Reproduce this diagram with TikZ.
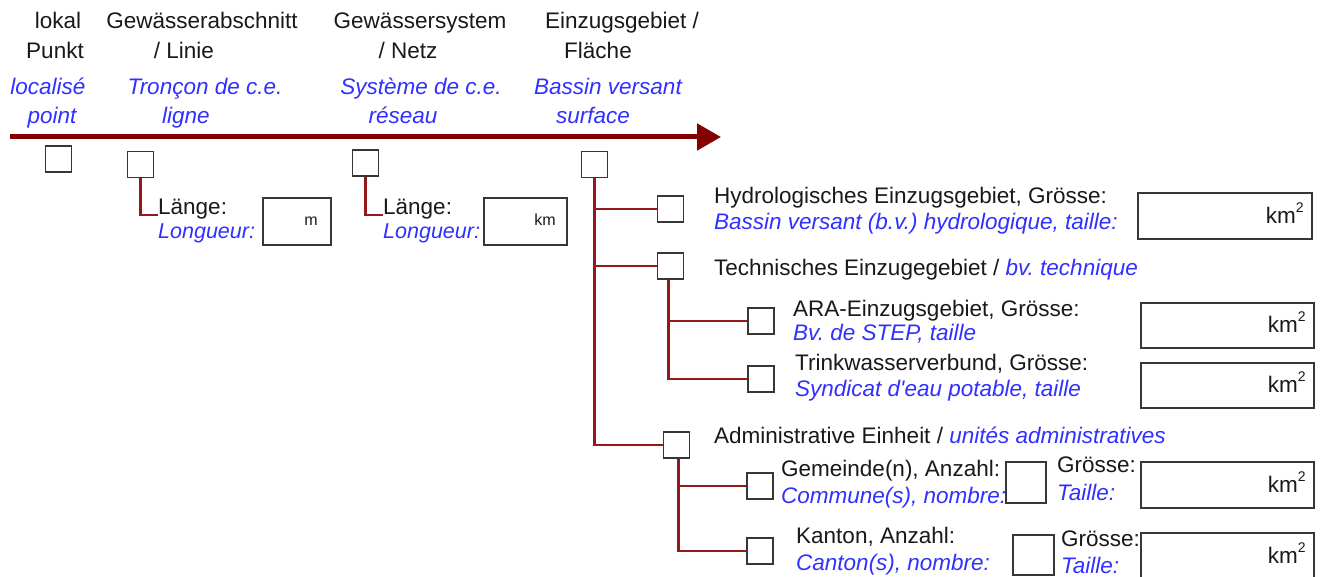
\documentclass[tikz,border=0pt]{standalone}
\usepackage{fontspec}
\setmainfont{Liberation Sans}
\usetikzlibrary{arrows.meta}

\definecolor{ink}{RGB}{25,25,25}
\definecolor{frblue}{RGB}{48,48,255}
\definecolor{axisred}{RGB}{130,0,0}
\definecolor{linkred}{RGB}{150,25,25}
\definecolor{boxgray}{RGB}{55,55,55}

\frenchspacing
\newcommand\lblfont{\fontsize{22.5}{27}\selectfont}
\newcommand\lenfont{\fontsize{21.5}{25}\selectfont}
\newcommand\unitfont{\fontsize{16}{19}\selectfont}
\newcommand\kmsq{km\raisebox{0.5em}{\fontsize{14}{14}\selectfont 2}}
\newcommand\fr[1]{{\color{frblue}\itshape #1}}

\tikzset{
  de/.style={font=\lblfont, text=ink, inner sep=0pt, yshift=-4pt},
  fra/.style={font=\lblfont\itshape, text=frblue, inner sep=0pt, yshift=-4pt},
  chk/.style={draw=boxgray, line width=1.9pt, minimum width=26pt, minimum height=26pt, inner sep=0pt},
  field/.style={draw=boxgray, line width=1.9pt, inner sep=0pt, anchor=north west},
  unit/.style={font=\unitfont, text=ink, inner sep=0pt, anchor=mid east, yshift=-3pt},
  unitsq/.style={font=\lblfont, text=ink, inner sep=0pt, anchor=east},
  link/.style={draw=linkred, line width=2.2pt},
  scale axis/.style={draw=axisred, line width=5pt, -{Triangle[length=24pt,width=26pt]}},
}

\begin{document}
\begin{tikzpicture}[x=1pt,y=-1pt]
  \useasboundingbox[fill=white] (0,0) rectangle (1325,577);

  % scale axis
  \coordinate (axisL) at (10,137);
  \coordinate (axisR) at (721,137);
  \draw[scale axis] (axisL) -- (axisR);

  % spatial levels (German above, French below)
  \node[de, anchor=mid] (t1a) at (58,22) {lokal};
  \node[de, anchor=mid] (t1b) at (55,52) {Punkt};
  \node[de, anchor=mid] (t2a) at (202,22) {Gewässerabschnitt};
  \node[de, anchor=mid] (t2b) at (184,52) {/ Linie};
  \node[de, anchor=mid] (t3a) at (420,22) {Gewässersystem};
  \node[de, anchor=mid] (t3b) at (408,52) {/ Netz};
  \node[de, anchor=mid] (t4a) at (622,22) {Einzugsgebiet /};
  \node[de, anchor=mid] (t4b) at (598,52) {Fläche};

  \node[fra, anchor=mid] (f1a) at (48,88) {localisé};
  \node[fra, anchor=mid] (f1b) at (52,117) {point};
  \node[fra, anchor=mid] (f2a) at (205,88) {Tronçon de c.e.};
  \node[fra, anchor=mid] (f2b) at (186,117) {ligne};
  \node[fra, anchor=mid] (f3a) at (421,88) {Système de c.e.};
  \node[fra, anchor=mid] (f3b) at (403,117) {réseau};
  \node[fra, anchor=mid] (f4a) at (608,88) {Bassin versant};
  \node[fra, anchor=mid] (f4b) at (593,117) {surface};

  % level check boxes
  \node[chk] (s1) at (58.5,159) {};
  \node[chk] (s2) at (140.5,164.5) {};
  \node[chk] (s3) at (365.5,163) {};
  \node[chk] (s4) at (594.5,164.5) {};

  % length of river section
  \node[de, anchor=mid west] (len1) at (158,208) {Länge:};
  \node[fra, font=\lenfont\itshape, anchor=mid west] (lon1) at (158,232) {Longueur:};
  \node[field, minimum width=68pt, minimum height=47pt] (fm) at (262,197) {};
  \node[unit] (um) at (318,220) {m};
  \draw[link] (s2.south) |- (len1.base west);

  % length of river network
  \node[de, anchor=mid west] (len2) at (383,208) {Länge:};
  \node[fra, font=\lenfont\itshape, anchor=mid west] (lon2) at (383,232) {Longueur:};
  \node[field, minimum width=83pt, minimum height=47pt] (fkm) at (483,197) {};
  \node[unit] (ukm) at (556,220) {km};
  \draw[link] (s3.south) |- (len2.base west);

  % catchment types
  \node[chk] (sHyd) at (670.5,209) {};
  \node[chk] (sTech) at (670.5,266) {};
  \node[chk] (sAra) at (761,321) {};
  \node[chk] (sTrink) at (761,379) {};
  \node[chk] (sAdm) at (676.5,445) {};
  \node[chk] (sGem) at (760,486) {};
  \node[chk] (sKan) at (760,551) {};

  \node[de, anchor=mid west] (hydA) at (714,197) {Hydrologisches Einzugsgebiet, Grösse:};
  \node[fra, anchor=mid west] (hydB) at (714,223) {Bassin versant (b.v.) hydrologique, taille:};
  \node[field, minimum width=174pt, minimum height=46pt] (fHyd) at (1137,192) {};
  \node[unitsq] at ([xshift=-9pt,yshift=3pt]fHyd.east) {\kmsq};

  \node[de, anchor=mid west] (tech) at (714,269) {Technisches Einzugegebiet / \fr{bv. technique}};

  \node[de, anchor=mid west] (araA) at (793,310) {ARA-Einzugsgebiet, Grösse:};
  \node[fra, anchor=mid west] (araB) at (793,334) {Bv. de STEP, taille};
  \node[field, minimum width=173pt, minimum height=45pt] (fAra) at (1140,302) {};
  \node[unitsq] at ([xshift=-9pt,yshift=3pt]fAra.east) {\kmsq};

  \node[de, anchor=mid west] (trA) at (795,364) {Trinkwasserverbund, Grösse:};
  \node[fra, anchor=mid west] (trB) at (795,390) {Syndicat d\textquotesingle eau potable, taille};
  \node[field, minimum width=173pt, minimum height=45pt] (fTrink) at (1140,362) {};
  \node[unitsq] at ([xshift=-9pt,yshift=3pt]fTrink.east) {\kmsq};

  \node[de, anchor=mid west] (adm) at (714,437) {Administrative Einheit / \fr{unités administratives}};

  \node[de, anchor=mid west] (gemA) at (781,470) {Gemeinde(n), Anzahl:};
  \node[fra, anchor=mid west] (gemB) at (781,497) {Commune(s), nombre:};
  \node[field, fill=white, minimum width=40pt, minimum height=41pt] (nGem) at (1005,461) {};
  \node[de, anchor=mid west] (gemC) at (1057,466) {Grösse:};
  \node[fra, anchor=mid west] (gemD) at (1057,494) {Taille:};
  \node[field, minimum width=173pt, minimum height=46pt] (fGem) at (1140,461) {};
  \node[unitsq] at ([xshift=-9pt,yshift=3pt]fGem.east) {\kmsq};

  \node[de, anchor=mid west] (kanA) at (796,537) {Kanton, Anzahl:};
  \node[fra, anchor=mid west] (kanB) at (796,564) {Canton(s), nombre:};
  \node[field, minimum width=41pt, minimum height=40pt] (nKan) at (1012,534) {};
  \node[de, anchor=mid west] (kanC) at (1061,540) {Grösse:};
  \node[fra, anchor=mid west] (kanD) at (1061,567) {Taille:};
  \node[field, minimum width=173pt, minimum height=48pt] (fKan) at (1140,532) {};
  \node[unitsq] at ([xshift=-9pt,yshift=4pt]fKan.east) {\kmsq};

  % tree connectors
  \draw[link] (s4.south) |- (sAdm.west);
  \draw[link] (s4.south |- sHyd.west) -- (sHyd.west);
  \draw[link] (s4.south |- sTech.west) -- (sTech.west);
  \draw[link] ([xshift=-2pt]sTech.south) |- (sTrink.west);
  \draw[link] ([xshift=-2pt]sTech.south |- sAra.west) -- (sAra.west);
  \draw[link] ([xshift=2pt]sAdm.south) |- (sKan.west);
  \draw[link] ([xshift=2pt]sAdm.south |- sGem.west) -- (sGem.west);
\end{tikzpicture}
\end{document}
